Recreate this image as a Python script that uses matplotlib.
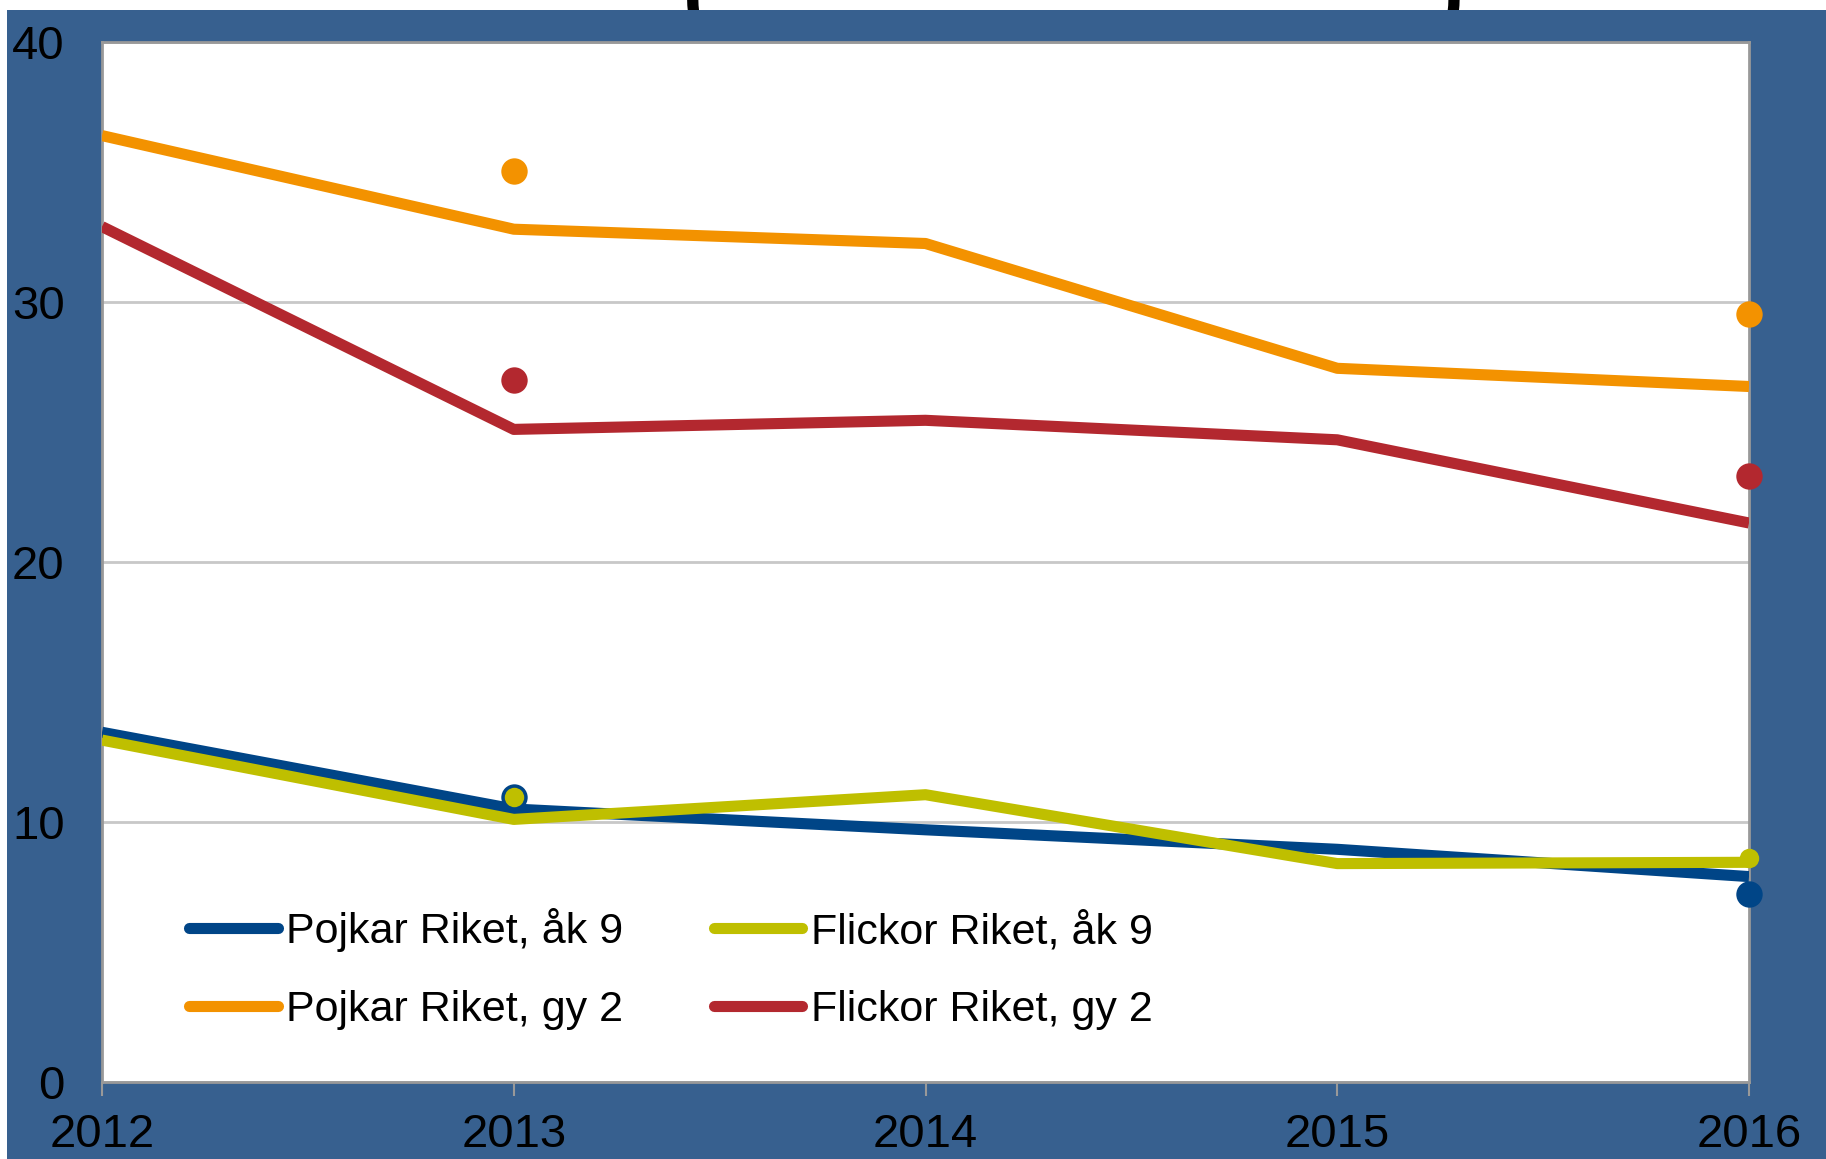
import matplotlib.pyplot as plt

# data
years = [2012, 2013, 2014, 2015, 2016]
pojkar_ak9 = [13.45, 10.5, 9.7, 8.95, 7.9]
flickor_ak9 = [13.15, 10.1, 11.05, 8.4, 8.45]
pojkar_gy2 = [36.4, 32.8, 32.25, 27.45, 26.75]
flickor_gy2 = [32.9, 25.1, 25.45, 24.7, 21.5]

# separate dots (no line)
dot_years = [2013, 2016]
dot_pojkar_ak9 = [10.95, 7.25]
dot_flickor_ak9 = [10.95, 8.6]
dot_pojkar_gy2 = [35.05, 29.55]
dot_flickor_gy2 = [27.0, 23.3]

yticks = [0, 10, 20, 30, 40]

plt.rcParams['font.family'] = ['Liberation Sans', 'DejaVu Sans']

bg = '#37608f'
c_blue = '#004587'
c_yel = '#bfbf00'
c_org = '#f39200'
c_red = '#b3282f'

fig = plt.figure(figsize=(18.26, 11.59), dpi=100, facecolor='white')
# blue panel behind the chart
fig.patches.append(plt.Rectangle((7/1826, 0), 1, 1 - 10/1159, transform=fig.transFigure,
                                 facecolor=bg, edgecolor='none', zorder=-5))
ax = fig.add_axes([102/1826, 77/1159, (1749-102)/1826, (1117-77)/1159])
ax.set_zorder(2)
ax.set_facecolor('white')

lw = 8
ax.plot(years, pojkar_gy2, color=c_org, lw=lw, label='Pojkar Riket, gy 2', solid_capstyle='butt', zorder=3)
ax.plot(years, flickor_gy2, color=c_red, lw=lw, label='Flickor Riket, gy 2', solid_capstyle='butt', zorder=3)
ax.plot(years, pojkar_ak9, color=c_blue, lw=lw, label='Pojkar Riket, åk 9', solid_capstyle='butt', zorder=3)
ax.plot(years, flickor_ak9, color=c_yel, lw=lw, label='Flickor Riket, åk 9', solid_capstyle='butt', zorder=4)

ms = 19
ax.plot(dot_years, dot_pojkar_gy2, 'o', color=c_org, ms=ms, mew=0, clip_on=False, zorder=5)
ax.plot(dot_years, dot_flickor_gy2, 'o', color=c_red, ms=ms, mew=0, clip_on=False, zorder=5)
ax.plot(dot_years, dot_pojkar_ak9, 'o', color=c_blue, ms=ms, mew=0, clip_on=False, zorder=5)
ax.plot(dot_years, dot_flickor_ak9, 'o', color=c_yel, ms=ms - 5, mew=0, clip_on=False, zorder=6)

ax.set_xlim(2012, 2016)
ax.set_ylim(0, 40)
ax.set_xticks(years)
ax.set_xticklabels([str(y) for y in years])
ax.set_yticks(yticks)
ax.grid(axis='y', color='#c8c8c8', lw=2)
ax.set_axisbelow(True)
for s in ax.spines.values():
    s.set_color('#999999')
    s.set_linewidth(2)
ax.tick_params(axis='x', length=10, width=1.5, color='#999999', labelsize=34, pad=12)
ax.tick_params(axis='y', length=0, labelsize=34, pad=27)

handles, labels = ax.get_legend_handles_labels()
order = [2, 0, 3, 1]
leg = ax.legend([handles[i] for i in order], [labels[i] for i in order], ncol=2,
                loc='lower left', bbox_to_anchor=(0.053, 0.05), borderaxespad=0, borderpad=0,
                frameon=False, fontsize=31, handlelength=2.05, handletextpad=0.2,
                columnspacing=2.1, labelspacing=0.88)
leg.set_zorder(10)
for h in leg.get_lines():
    h.set_linewidth(8)
    h.set_solid_capstyle('round')

# partially visible title at the top edge, hidden behind the blue panel
fig.text(697/1826, 1.0, '(', fontsize=60, fontweight='bold', ha='center', va='center',
         color='black', zorder=-10)
fig.text(1450/1826, 1.0, ')', fontsize=60, fontweight='bold', ha='center', va='center',
         color='black', zorder=-10)

fig.savefig('out.png', dpi=100, facecolor='white')
